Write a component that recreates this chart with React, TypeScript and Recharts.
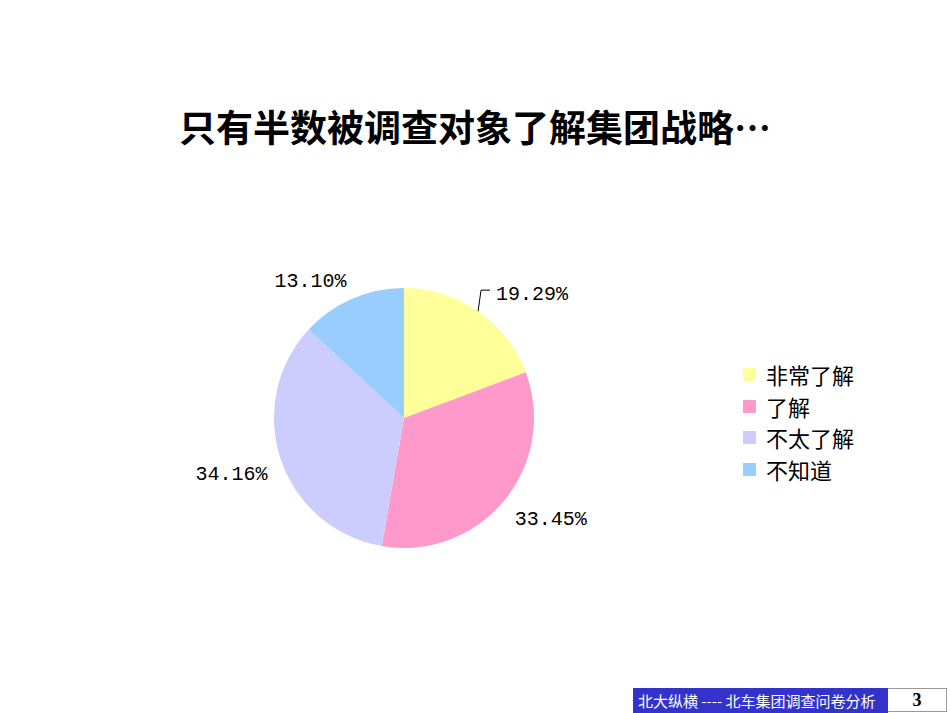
import { PieChart, Pie, Cell, Legend } from 'recharts'

const categories = ['非常了解', '了解', '不太了解', '不知道']
const shares = [19.29, 33.45, 34.16, 13.1]
const colors = ['#FFFF99', '#FF99CC', '#CCCCFF', '#99CCFF']

const data = categories.map((name, i) => ({ name, value: shares[i] }))

const RAD = Math.PI / 180
const labelFont = '"Liberation Mono", "DejaVu Sans Mono", monospace'
const cjkFont = '"Noto Sans CJK SC", sans-serif'

const renderLabel = (props: any) => {
  const { cx, cy, midAngle, outerRadius, value, index } = props
  const cos = Math.cos(-midAngle * RAD)
  const sin = Math.sin(-midAngle * RAD)
  const ex = cx + outerRadius * cos
  const ey = cy + outerRadius * sin
  const text = `${value.toFixed(2)}%`

  if (index === 0) {
    // leader line for the first slice, like the original
    const mx = ex + 3
    const my = ey - 21
    return (
      <g>
        <polyline
          points={`${ex},${ey} ${mx},${my} ${mx + 9},${my}`}
          fill="none"
          stroke="#000"
          strokeWidth={1}
        />
        <text x={mx + 15} y={my + 4} fontFamily={labelFont} fontSize={20} fill="#000" dominantBaseline="central">
          {text}
        </text>
      </g>
    )
  }

  const r = outerRadius + 14
  const x = cx + r * cos
  const y = cy + r * sin + (sin > 0 ? 10 : -5)
  return (
    <text
      x={x}
      y={y}
      fontFamily={labelFont}
      fontSize={20}
      fill="#000"
      textAnchor={cos > 0 ? 'start' : 'end'}
      dominantBaseline="central"
    >
      {text}
    </text>
  )
}

const LegendContent = ({ payload }: any) => {
  const items = [...(payload || [])].sort(
    (a: any, b: any) => categories.indexOf(a.value) - categories.indexOf(b.value)
  )
  return (
    <div style={{ fontFamily: cjkFont, fontSize: 22, color: '#000' }}>
      {items.map((item: any, i: number) => (
        <div key={i} style={{ display: 'flex', alignItems: 'center', height: 31.5 }}>
          <span style={{ width: 13, height: 13, background: item.color, marginRight: 10, display: 'inline-block' }} />
          <span style={{ lineHeight: '31px' }}>{item.value}</span>
        </div>
      ))}
    </div>
  )
}

export default function App() {
  return (
    <div style={{ position: 'absolute', left: 0, top: 0, width: 950, height: 713, background: '#fff', overflow: 'hidden' }}>
      <div
        style={{
          position: 'absolute',
          top: 102,
          left: 0,
          width: 950,
          textAlign: 'center',
          fontFamily: cjkFont,
          fontWeight: 'bold',
          fontSize: 37,
          lineHeight: '48px',
          color: '#000',
        }}
      >
        只有半数被调查对象了解集团战略…
      </div>

      <div style={{ position: 'absolute', left: 0, top: 0 }}>
        <PieChart width={950} height={713}>
          <Pie
            data={data}
            dataKey="value"
            nameKey="name"
            cx={399}
            cy={413}
            outerRadius={130}
            startAngle={90}
            endAngle={-270}
            stroke="none"
            label={renderLabel}
            labelLine={false}
            isAnimationActive={false}
          >
            {data.map((entry, index) => (
              <Cell key={`cell-${index}`} fill={colors[index]} />
            ))}
          </Pie>
          <Legend
            layout="vertical"
            content={<LegendContent />}
            wrapperStyle={{ position: 'absolute', left: 743, top: 359, width: 180 }}
          />
        </PieChart>
      </div>

      <div
        style={{
          position: 'absolute',
          left: 633,
          top: 688,
          width: 255,
          height: 25,
          background: '#3333CC',
          color: '#fff',
          fontFamily: cjkFont,
          fontSize: 15,
          lineHeight: '25px',
          paddingLeft: 5,
          boxSizing: 'border-box',
          whiteSpace: 'nowrap',
        }}
      >
        北大纵横 ---- 北车集团调查问卷分析
      </div>
      <div
        style={{
          position: 'absolute',
          left: 888,
          top: 688,
          width: 59,
          height: 24,
          border: '1px solid #999',
          borderLeft: 'none',
          boxSizing: 'border-box',
          textAlign: 'center',
          fontFamily: '"Liberation Serif", serif',
          fontWeight: 'bold',
          fontSize: 18,
          lineHeight: '22px',
          color: '#000',
        }}
      >
        3
      </div>
    </div>
  )
}
